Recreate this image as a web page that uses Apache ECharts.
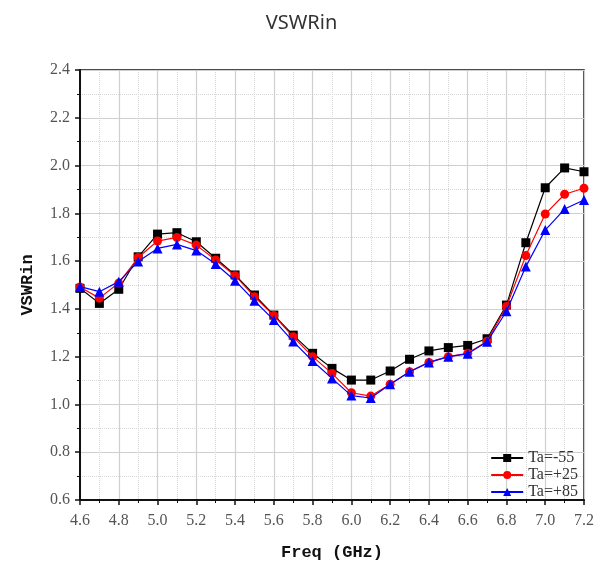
<!DOCTYPE html>
<html><head><meta charset="utf-8">
<script src="https://cdn.jsdelivr.net/npm/echarts@6/dist/echarts.min.js"></script>
<style>html,body{margin:0;padding:0;background:#fff}#c{width:603px;height:570px}</style>
</head><body><div id="c"></div>
<script>
const freq = [4.6,4.7,4.8,4.9,5.0,5.1,5.2,5.3,5.4,5.5,5.6,5.7,5.8,5.9,6.0,6.1,6.2,6.3,6.4,6.5,6.6,6.7,6.8,6.9,7.0,7.1,7.2];
const taM55 = [1.486,1.423,1.482,1.618,1.713,1.719,1.681,1.612,1.542,1.458,1.374,1.290,1.214,1.151,1.102,1.102,1.140,1.189,1.224,1.238,1.247,1.275,1.416,1.677,1.907,1.990,1.974];
const taP25 = [1.492,1.445,1.508,1.615,1.684,1.699,1.667,1.605,1.539,1.451,1.372,1.283,1.200,1.130,1.049,1.035,1.085,1.137,1.176,1.200,1.214,1.265,1.410,1.623,1.797,1.880,1.905];
const taP85 = [1.493,1.472,1.514,1.598,1.653,1.670,1.644,1.588,1.518,1.434,1.353,1.263,1.182,1.109,1.037,1.027,1.085,1.137,1.176,1.200,1.212,1.262,1.390,1.577,1.730,1.818,1.856];
const seriesNames = ['Ta=-55','Ta=+25','Ta=+85'];

const pairs = a => freq.map((f,i)=>[f,a[i]]);
const chart = echarts.init(document.getElementById('c'));
const serif = 'Liberation Serif';
chart.setOption({
  animation:false,
  title:{text:'VSWRin',left:'center',top:8,textStyle:{fontFamily:'Noto Sans',fontSize:20,fontWeight:'normal',color:'#333'}},
  legend:{orient:'vertical',right:20,top:445,itemGap:1,itemWidth:32,itemHeight:10,
    textStyle:{fontFamily:serif,fontSize:16,color:'#333'},data:seriesNames},
  grid:{left:80,right:19,top:70,bottom:70,show:true,borderColor:'#111',borderWidth:1.5,backgroundColor:'transparent'},
  xAxis:{type:'value',min:4.6,max:7.2,interval:0.2,
    name:'Freq (GHz)',nameLocation:'middle',nameGap:44,
    nameTextStyle:{fontFamily:'Liberation Mono',fontWeight:'bold',fontSize:17,color:'#111'},
    axisLine:{lineStyle:{color:'#111',width:2}},
    axisTick:{length:5,lineStyle:{color:'#111',width:1.5}},
    minorTick:{show:true,splitNumber:2,length:3,lineStyle:{color:'#111'}},
    axisLabel:{fontFamily:serif,fontSize:16,color:'#555',margin:13,formatter:v=>v.toFixed(1)},
    splitLine:{show:true,lineStyle:{color:'#cfcfcf',width:1.2}},
    minorSplitLine:{show:true,lineStyle:{color:'#d6d6d6',type:'dotted',width:1}}},
  yAxis:{type:'value',min:0.6,max:2.4,interval:0.2,
    name:'VSWRin',nameLocation:'middle',nameGap:44,
    nameTextStyle:{fontFamily:'Liberation Mono',fontWeight:'bold',fontSize:17,color:'#111'},
    axisLine:{show:true,lineStyle:{color:'#111',width:2}},
    axisTick:{show:true,length:5,lineStyle:{color:'#111',width:1.5}},
    minorTick:{show:true,splitNumber:2,length:3,lineStyle:{color:'#111'}},
    axisLabel:{fontFamily:serif,fontSize:16,color:'#555',margin:10,formatter:v=>v.toFixed(1)},
    splitLine:{show:true,lineStyle:{color:'#cfcfcf',width:1.2}},
    minorSplitLine:{show:true,lineStyle:{color:'#d6d6d6',type:'dotted',width:1}}},
  series:[
    {name:seriesNames[0],type:'line',data:pairs(taM55),symbol:'rect',symbolSize:9,
      itemStyle:{color:'#000'},lineStyle:{color:'#000',width:1.2},z:3},
    {name:seriesNames[1],type:'line',data:pairs(taP25),symbol:'circle',symbolSize:9,
      itemStyle:{color:'#ff0000'},lineStyle:{color:'#ff0000',width:1.2},z:4},
    {name:seriesNames[2],type:'line',data:pairs(taP85),symbol:'triangle',symbolSize:10,
      itemStyle:{color:'#0000ff'},lineStyle:{color:'#0000ff',width:1.2},z:5}
  ]
});
</script></body></html>
